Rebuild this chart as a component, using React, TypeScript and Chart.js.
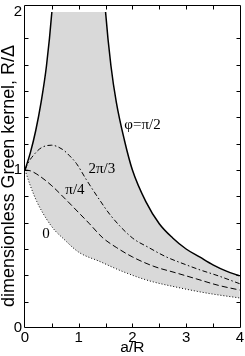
import React, { useEffect, useRef } from "react";
import { Chart, registerables } from "chart.js";
Chart.register(...registerables);

// phi = pi/2 (solid)
const halfPiA = [0, 0.1, 0.2, 0.3, 0.4, 0.5, 0.6, 0.7, 0.8, 0.9, 0.95, 1.0, 1.05, 1.1, 1.2, 1.3, 1.4, 1.5, 1.6, 1.7, 1.85, 2.0, 2.25, 2.5, 2.75, 3.0, 3.25, 3.5, 3.75, 4.0];
const halfPiG = [1, 1.11, 1.25, 1.43, 1.66, 2.0, 2.5, 3.3, 5, 10, 20, 40, 20, 10, 5, 3.3, 2.5, 2.0, 1.66, 1.43, 1.19, 1.0, 0.8, 0.66, 0.57, 0.5, 0.45, 0.4, 0.36, 0.33];
// phi = 2pi/3 (dash-dot)
const twoThirdA = [0, 0.05, 0.15, 0.3, 0.49, 0.7, 0.83, 0.96, 1.14, 1.39, 1.6, 2.0, 2.3, 2.63, 3.0, 3.24, 3.6, 4.0];
const twoThirdG = [1, 1.04, 1.09, 1.14, 1.157, 1.13, 1.09, 1.04, 0.94, 0.81, 0.71, 0.57, 0.51, 0.45, 0.4, 0.37, 0.33, 0.28];
// phi = pi/4 (dashed)
const quarterA = [0, 0.1, 0.28, 0.5, 0.77, 1.0, 1.2, 1.45, 1.7, 2.0, 2.4, 2.8, 3.2, 3.6, 4.0];
const quarterG = [1, 0.995, 0.96, 0.9, 0.81, 0.73, 0.66, 0.57, 0.51, 0.45, 0.39, 0.35, 0.31, 0.27, 0.24];
// phi = 0 (dotted)
const zeroA = [0, 0.1, 0.22, 0.4, 0.55, 0.7, 1.0, 1.4, 1.8, 2.3, 2.8, 3.4, 4.0];
const zeroG = [1, 0.9, 0.8, 0.69, 0.62, 0.57, 0.48, 0.42, 0.36, 0.3, 0.26, 0.22, 0.19];

const xTickLabels = ["0", "1", "2", "3", "4"];
const yTickLabels = ["0", "1", "2"];
const xMinorTicks = [0.5, 1, 1.5, 2, 2.5, 3, 3.5];
const yMinorTicks = [0.1667, 0.3333, 0.5, 0.6667, 0.8333, 1, 1.1667, 1.3333, 1.5, 1.6667, 1.8333];

const curveLabels = ["φ=π/2", "2π/3", "π/4", "0"];
const curveLabelA = [1.85, 1.43, 0.93, 0.39];
const curveLabelG = [1.285, 1.006, 0.876, 0.596];
const curveLabelAlign = ["left", "center", "center", "center"];

const xTitle = "a/R";
const yTitle = "dimensionless Green kernel, R/Δ";

const sans = "'Liberation Sans', Arial, Helvetica, sans-serif";

const pts = (a: number[], g: number[]) => a.map((x, i) => ({ x, y: g[i] }));

const framePlugin = {
  id: "frameAndLabels",
  afterDatasetsDraw(chart: any) {
    const { ctx, scales } = chart;
    const xs = scales.x;
    const ys = scales.y;
    const L = 24.5, R = 240.5, T = 5.5, B = 327.5;
    ctx.save();
    ctx.strokeStyle = "#000";
    ctx.lineWidth = 1;
    ctx.beginPath();
    ctx.rect(L, T, R - L, B - T);
    ctx.stroke();
    const tl = 4;
    ctx.beginPath();
    xMinorTicks.forEach((v) => {
      const px = Math.round(xs.getPixelForValue(v)) + 0.5;
      ctx.moveTo(px, B);
      ctx.lineTo(px, B - tl);
      ctx.moveTo(px, T);
      ctx.lineTo(px, T + tl);
    });
    yMinorTicks.forEach((v) => {
      const py = Math.round(ys.getPixelForValue(v)) + 0.5;
      ctx.moveTo(L, py);
      ctx.lineTo(L + tl, py);
      ctx.moveTo(R, py);
      ctx.lineTo(R - tl, py);
    });
    ctx.stroke();
    ctx.fillStyle = "#000";
    ctx.font = "15px 'Liberation Serif', 'Times New Roman', serif";
    ctx.textBaseline = "middle";
    curveLabels.forEach((t, i) => {
      ctx.textAlign = curveLabelAlign[i] as CanvasTextAlign;
      ctx.fillText(t, xs.getPixelForValue(curveLabelA[i]), ys.getPixelForValue(curveLabelG[i]));
    });
    // y-axis title, sized to span the same length as in the reference
    ctx.save();
    ctx.font = `16px ${sans}`;
    const w = ctx.measureText(yTitle).width;
    const size = (16 * 262) / w;
    ctx.font = `${size.toFixed(2)}px ${sans}`;
    ctx.translate(9, 176);
    ctx.rotate(-Math.PI / 2);
    ctx.textAlign = "center";
    ctx.textBaseline = "middle";
    ctx.fillText(yTitle, 0, 0);
    ctx.restore();
    ctx.restore();
  },
};

export default function App() {
  const ref = useRef<HTMLCanvasElement>(null);
  useEffect(() => {
    if (!ref.current) return;
    const chart = new Chart(ref.current, {
      type: "line",
      data: {
        datasets: [
          {
            label: "φ=π/2",
            data: pts(halfPiA, halfPiG),
            borderColor: "#000",
            borderWidth: 1.5,
            pointRadius: 0,
            fill: 3,
            backgroundColor: "#d9d9d9",
            cubicInterpolationMode: "monotone",
          },
          {
            label: "2π/3",
            data: pts(twoThirdA, twoThirdG),
            borderColor: "#000",
            borderWidth: 1,
            borderDash: [5, 2.5, 1.5, 2.5],
            pointRadius: 0,
            fill: false,
            cubicInterpolationMode: "monotone",
          },
          {
            label: "π/4",
            data: pts(quarterA, quarterG),
            borderColor: "#000",
            borderWidth: 1,
            borderDash: [6, 3],
            pointRadius: 0,
            fill: false,
            cubicInterpolationMode: "monotone",
          },
          {
            label: "0",
            data: pts(zeroA, zeroG),
            borderColor: "#000",
            borderWidth: 1,
            borderDash: [1, 2],
            pointRadius: 0,
            fill: false,
            cubicInterpolationMode: "monotone",
          },
        ],
      },
      options: {
        animation: false,
        responsive: false,
        layout: { padding: { top: 6, right: 4, left: 0, bottom: 0 } },
        plugins: {
          legend: { display: false },
          tooltip: { enabled: false },
          filler: { drawTime: "beforeDatasetsDraw" },
        } as any,
        scales: {
          x: {
            type: "linear",
            min: 0,
            max: 4,
            grid: { display: false, drawTicks: false },
            border: { display: false },
            ticks: {
              stepSize: 1,
              padding: 1,
              color: "#000",
              font: { family: sans, size: 15 },
              maxRotation: 0,
              callback: (_v: any, i: number) => xTickLabels[i],
            },
            title: {
              display: true,
              text: xTitle,
              color: "#000",
              font: { family: sans, size: 15.5, lineHeight: 1.1 },
              padding: 0,
            },
            afterFit: (s: any) => {
              s.height = 28;
            },
          },
          y: {
            type: "linear",
            min: 0,
            max: 2,
            grid: { display: false, drawTicks: false },
            border: { display: false },
            ticks: {
              stepSize: 1,
              padding: 3,
              color: "#000",
              font: { family: sans, size: 15 },
              callback: (_v: any, i: number) => yTickLabels[i],
            },
            title: { display: false, text: yTitle },
            afterFit: (s: any) => {
              s.width = 25;
            },
          },
        },
      },
      plugins: [framePlugin],
    });
    return () => chart.destroy();
  }, []);
  return (
    <div style={{ position: "absolute", left: 0, top: 0, width: 245, height: 356 }}>
      <canvas ref={ref} width={245} height={356} />
    </div>
  );
}
